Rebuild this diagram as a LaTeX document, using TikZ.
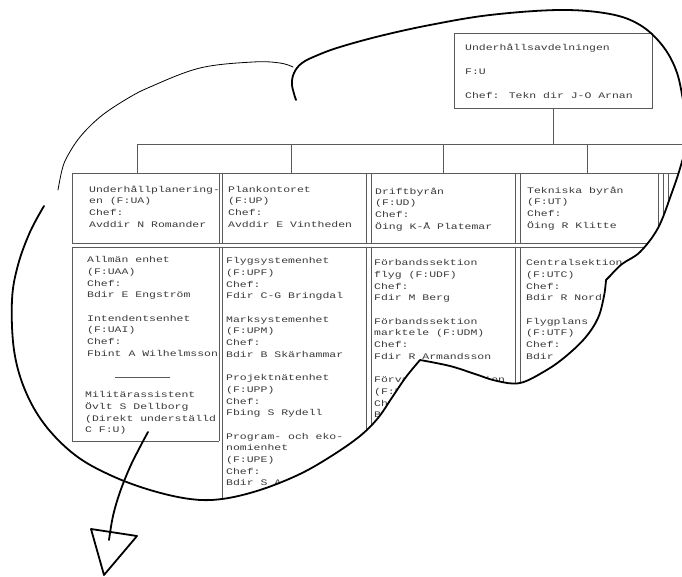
\documentclass[tikz,border=0pt]{standalone}
\usepackage{fontspec}
\newfontfamily\tw[FakeStretch=1.35]{Liberation Mono}
\definecolor{ink}{HTML}{3A3A3A}
\definecolor{linec}{HTML}{5A5A5A}
\tikzset{
  txt/.style={anchor=north west, inner sep=0pt, align=left, text=ink,
    font=\tw\fontsize{8.5}{11.7}\selectfont},
  grid/.style={draw=linec, line width=0.6pt},
  cloudline/.style={line width=1.8pt, line cap=round, line join=round},
  thinline/.style={line width=0.8pt, line cap=round},
}
\begin{document}
\begin{tikzpicture}[x=1pt,y=-1pt]
\useasboundingbox (0,0) rectangle (682,577);
\fill[white] (0,0) rectangle (682,577);

% top box
\node[grid, draw, anchor=north west, inner sep=0pt, minimum width=198pt, minimum height=75pt] (topbox) at (454,33) {};
\node[txt] (toptext) at (465,42.3) {\strut Underhållsavdelningen\\[12.3pt]F:U\\[12.3pt]Chef: Tekn dir J-O Arnan};

\begin{scope}
\clip plot[smooth, tension=0.6] coordinates {(58,190) (62,170) (67,157) (80,137) (100,117) (125,100) (150,87) (200,68) (253,62) (280,63) (293,67)}
  -- plot[smooth, tension=0.6] coordinates {(302,63) (318,55) (340,47) (380,36) (430,25) (490,15) (560,10) (610,14) (640,25) (662,45) (676,70) (683,100) (688,135) (681,165) (671,195) (658,228) (640,252) (622,264) (610,276)}
  -- plot[smooth, tension=0.6] coordinates {(606,280) (604,296) (598,318) (585,338) (565,357) (545,371) (520,383) (497,381) (475,374) (450,366) (420,360)}
  -- plot[smooth, tension=0.6] coordinates {(420,360) (406,377) (393,396) (378,418) (360,436) (333,455) (300,474) (260,490) (222,499) (190,499) (150,490) (110,475) (75,455) (45,425) (25,390) (14,350) (12,300) (18,265) (30,232) (44,206)}
  -- cycle;

% bar and drops
\coordinate (barL) at (137,144);
\coordinate (barR) at (695,144);
\coordinate (d1) at (137,173);
\coordinate (d2) at (291,173);
\coordinate (d3) at (443,173);
\coordinate (d4) at (587,173);
\draw[grid] (topbox.south) -- (topbox.south |- barL);
\draw[grid] (barL) -- (barR);
\foreach \d in {d1,d2,d3,d4} \draw[grid] (\d |- barL) -- (\d);

% grid of boxes
\draw[grid] (72,173) -- (695,173);
\draw[grid] (72,243) -- (695,243);
\draw[grid] (72,247) -- (695,247);
\draw[grid] (72,441) -- (219,441);
\foreach \x in {72,219} {\draw[grid] (\x,173) -- (\x,243); \draw[grid] (\x,247) -- (\x,441);}
\foreach \x in {222,366,371,515,520,658,663,668} {\draw[grid] (\x,173) -- (\x,243); \draw[grid] (\x,247) -- (\x,520);}

% level 2 texts
\node[txt] (ua) at (89,183.8) {\strut Underhållplanering-\\en (F:UA)\\Chef:\\Avddir N Romander};
\node[txt] (up) at (228,183.8) {\strut Plankontoret\\(F:UP)\\Chef:\\Avddir E Vintheden};
\node[txt] (ud) at (375,185.8) {\strut Driftbyrån\\(F:UD)\\Chef:\\Öing K-Å Platemar};
\node[txt] (ut) at (527,184.8) {\strut Tekniska byrån\\(F:UT)\\Chef:\\Öing R Klitte};

% level 3 texts
\node[txt] (uaa) at (87,254.3) {\strut Allmän enhet\\(F:UAA)\\Chef:\\Bdir E Engström\\[11.7pt]Intendentsenhet\\(F:UAI)\\Chef:\\Fbint A Wilhelmsson};
\draw[grid] (115,377) -- (170,377);
\node[txt] (mil) at (85,389.3) {\strut Militärassistent\\Övlt S Dellborg\\(Direkt underställd\\C F:U)};
\node[txt] (upf) at (226,255.3) {\strut Flygsystemenhet\\(F:UPF)\\Chef:\\Fdir C-G Bringdal\\[11.7pt]Marksystemenhet\\(F:UPM)\\Chef:\\Bdir B Skärhammar\\[11.7pt]Projektnätenhet\\(F:UPP)\\Chef:\\Fbing S Rydell\\[11.7pt]Program- och eko-\\nomienhet\\(F:UPE)\\Chef:\\Bdir S A};
\node[txt] (udf) at (374,257.3) {\strut Förbandssektion\\flyg (F:UDF)\\Chef:\\Fdir M Berg\\[11.7pt]Förbandssektion\\marktele (F:UDM)\\Chef:\\Fdir R Armandsson\\[11.7pt]Förvaltningssektion\\(F:U\\Chef:\\B};
\node[txt] (utc) at (526,257.3) {\strut Centralsektion\\(F:UTC)\\Chef:\\Bdir R Nord\\[11.7pt]Flygplans\\(F:UTF)\\Chef:\\Bdir};
\end{scope}

% cloud outline
\draw[thinline] plot[smooth, tension=0.6] coordinates {(58,190) (62,170) (67,157) (80,137) (100,117) (125,100) (150,87) (200,68) (253,62) (280,63) (293,67)};
\draw[cloudline] plot[smooth, tension=0.6] coordinates {(296,100) (292,85) (294,73) (302,63) (318,55) (340,47) (380,36) (430,25) (490,15) (560,10) (610,14) (640,25) (662,45) (676,70) (683,100) (688,135) (681,165) (671,195) (658,228) (640,252) (622,264) (610,276)}
  -- plot[smooth, tension=0.6] coordinates {(606,280) (604,296) (598,318) (585,338) (565,357) (545,371) (520,383) (497,381) (475,374) (450,366) (420,360)}
  -- plot[smooth, tension=0.6] coordinates {(420,360) (406,377) (393,396) (378,418) (360,436) (333,455) (300,474) (260,490) (222,499) (190,499) (150,490) (110,475) (75,455) (45,425) (25,390) (14,350) (12,300) (18,265) (30,232) (44,206)};

% hand-drawn arrow
\coordinate (arrstart) at (148,432);
\coordinate (arrend) at (109,540);
\draw[cloudline] plot[smooth, tension=0.6] coordinates {(arrstart) (140,447) (130,467) (120,492) (113,516) (arrend)};
\coordinate (tri1) at (91,529);
\coordinate (tri2) at (137,536);
\coordinate (tri3) at (104,575);
\draw[cloudline] (tri1) -- (tri2) -- (tri3) -- cycle;
\end{tikzpicture}
\end{document}
